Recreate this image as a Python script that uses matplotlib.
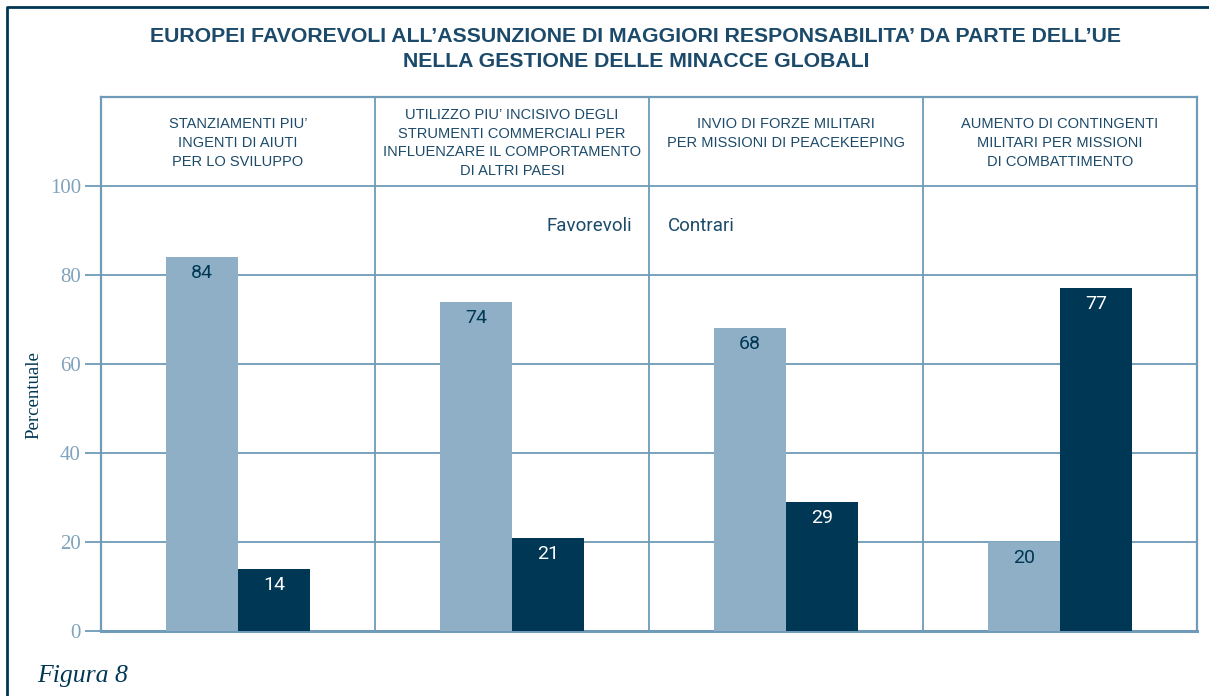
import matplotlib
matplotlib.use("Agg")
import matplotlib.pyplot as plt
from matplotlib.lines import Line2D
import numpy as np

categories = ["STANZIAMENTI PIU'\nINGENTI DI AIUTI\nPER LO SVILUPPO",
              "UTILIZZO PIU' INCISIVO DEGLI\nSTRUMENTI COMMERCIALI PER\nINFLUENZARE IL COMPORTAMENTO\nDI ALTRI PAESI",
              "INVIO DI FORZE MILITARI\nPER MISSIONI DI PEACEKEEPING",
              "AUMENTO DI CONTINGENTI\nMILITARI PER MISSIONI\nDI COMBATTIMENTO"]
categories = [c.replace("'", "\u2019") for c in categories]
favorevoli = [84, 74, 68, 20]
contrari = [14, 21, 29, 77]
yticks = [0, 20, 40, 60, 80, 100]

light = "#8eafc5"
dark = "#003755"
grid = "#6f9bb8"
navy = "#1c4a6a"
sans = ["Liberation Sans Narrow", "Liberation Sans", "DejaVu Sans"]
serif = ["Liberation Serif", "DejaVu Serif"]
num = ["Roboto", "DejaVu Sans"]

fig = plt.figure(figsize=(12.09, 6.96), dpi=100)
ax = fig.add_axes([101/1209, 1 - 631/696, (1197 - 101)/1209, (631 - 97)/696])
px = 534 / 120  # pixels per unit on y

x = np.arange(len(categories))
w = 0.263
ax.bar(x - w/2, favorevoli, w, color=light, zorder=3)
ax.bar(x + w/2, contrari, w, color=dark, zorder=3)

for i in range(len(categories)):
    ax.text(x[i] - w/2, favorevoli[i] - 16/px, str(favorevoli[i]), ha="center", va="center",
            fontsize=14, color=dark, family=num, zorder=4)
    ax.text(x[i] + w/2, contrari[i] - 16/px, str(contrari[i]), ha="center", va="center",
            fontsize=14, color="white", family=num, zorder=4)
    n = categories[i].count("\n") + 1
    c_px = 143 - max(3 - n, 0) * 19 / 2
    ax.text(x[i], (631 - c_px) / px, categories[i], ha="center", va="center", fontsize=10.5,
            color=navy, family=sans, linespacing=1.45)

ax.set_xlim(-0.5, len(categories) - 0.5)
ax.set_ylim(0, 120)
for y in yticks[1:]:
    ax.axhline(y, color=grid, lw=1.3, zorder=1)
for b in x[:-1] + 0.5:
    ax.axvline(b, color=grid, lw=1.3, zorder=1)

ax.text(1.44, 91, "Favorevoli", ha="right", va="center", fontsize=13.5, color=navy, family=num)
ax.text(1.57, 91, "Contrari", ha="left", va="center", fontsize=13.5, color=navy, family=num)

ax.set_xticks([])
ax.set_yticks(yticks)
ax.set_yticklabels([str(t) for t in yticks], family=serif, fontsize=15, color="#7fa3bd")
ax.tick_params(axis="y", length=11.5, width=1.3, color=grid, pad=3)
for s in ax.spines.values():
    s.set_color(grid)
    s.set_linewidth(1.6)
ax.spines["bottom"].set_linewidth(2.2)
ax.set_ylabel("Percentuale", family=serif, fontsize=13.5, color=dark)
ax.yaxis.set_label_coords(-0.053, 53 / 120)

fig.text(636/1209, 1 - 49/696, "EUROPEI FAVOREVOLI ALL\u2019ASSUNZIONE DI MAGGIORI RESPONSABILITA\u2019 DA PARTE DELL\u2019UE\nNELLA GESTIONE DELLE MINACCE GLOBALI",
         ha="center", va="center", fontsize=15.3, fontweight="bold", color=navy,
         family=sans, linespacing=1.45)
fig.text(37/1209, 1 - 676/696, "Figura 8", ha="left", va="center", fontsize=18.5,
         style="italic", color=dark, family=serif)

fig.add_artist(Line2D([7/1209, 7/1209, 1.0], [0.0, 1 - 7/696, 1 - 7/696],
                      transform=fig.transFigure, color=dark, lw=2))

fig.savefig("out.png", dpi=100)
